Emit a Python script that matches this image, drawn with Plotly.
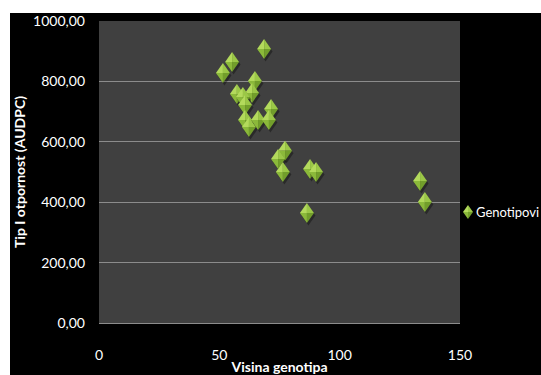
import plotly.graph_objects as go

# Plant height vs. type I resistance (AUDPC) per genotype
visina = [68.6, 55.3, 51.5, 64.8, 57.3, 63.6, 59.8, 60.7, 60.7, 62.3, 66.1,
          71.5, 70.6, 77.3, 74.4, 76.4, 87.7, 90.2, 86.4, 133.4, 135.4]
audpc = [907, 864, 828, 801, 758, 762, 748, 722, 672, 649, 672,
         709, 672, 570, 543, 500, 510, 500, 364, 470, 401]
serija = "Genotipovi"
y_ticks = [0, 200, 400, 600, 800, 1000]
x_ticks = [0, 50, 100, 150]

W, H = 541, 375
L, R, T, B = 99, 81, 21, 52
pw, ph = W - L - R, H - T - B

FONT = "Lato"


def px_x(p):
    return (p - L) / pw


def px_y(p):
    return (H - B - p) / ph


fig = go.Figure()
# the series trace (its glyphs are painted as faceted shapes below)
fig.add_trace(go.Scatter(
    x=visina, y=audpc, mode="markers", name=serija,
    marker=dict(symbol="diamond-tall", size=11, color="rgba(0,0,0,0)",
                line=dict(width=0)),
    cliponaxis=False,
))


def diamond(hw, hh, shadow=True):
    parts = []
    if shadow:
        parts.append((f"M{-hw + 1.5},-2.5 L1.5,{-2.5 - hh} L{hw + 1.5},-2.5 "
                      f"L1.5,{hh - 2.5} Z", "rgba(0,0,0,0.35)"))
    parts += [
        (f"M0,0 L-{hw},0 L0,{hh} Z", "#b3da5c"),
        (f"M0,0 L0,{hh} L{hw},0 Z", "#9bc747"),
        (f"M0,0 L{hw},0 L0,-{hh} Z", "#729e2b"),
        (f"M0,0 L0,-{hh} L-{hw},0 Z", "#8bb93a"),
    ]
    return parts


# faceted diamond glyph at each data point
for xv, yv in zip(visina, audpc):
    for p, col in diamond(7, 10):
        fig.add_shape(type="path", xref="x", yref="y",
                      xsizemode="pixel", ysizemode="pixel",
                      xanchor=xv, yanchor=yv, path=p,
                      fillcolor=col, line_width=0, layer="above")

# same glyph, smaller, as the legend key
for p, col in diamond(5, 7, shadow=False):
    fig.add_shape(type="path", xref="paper", yref="paper",
                  xsizemode="pixel", ysizemode="pixel",
                  xanchor=px_x(468), yanchor=px_y(212), path=p,
                  fillcolor=col, line_width=0, layer="above")

# light strips along the top and left edges of the canvas
fig.add_shape(type="rect", xref="paper", yref="paper", layer="above",
              x0=px_x(-5), x1=px_x(W + 5), y0=px_y(13), y1=px_y(-5),
              fillcolor="white", line_width=0)
fig.add_shape(type="rect", xref="paper", yref="paper", layer="above",
              x0=px_x(-5), x1=px_x(10), y0=px_y(H + 5), y1=px_y(-5),
              fillcolor="white", line_width=0)

fig.update_layout(
    width=W, height=H,
    margin=dict(l=L, r=R, t=T, b=B, pad=0, autoexpand=False),
    paper_bgcolor="black", plot_bgcolor="#404040",
    separators=",.",
    font=dict(family=FONT, color="white", size=14),
    showlegend=True,
    legend=dict(x=px_x(436), xanchor="left", y=px_y(212), yanchor="middle",
                bgcolor="rgba(0,0,0,0)", font=dict(size=13, color="white"),
                itemwidth=30, itemsizing="constant", borderwidth=0),
    xaxis=dict(range=[0, 150], tickvals=x_ticks, showgrid=False,
               zeroline=False, showline=True, linecolor="#8c8c8c",
               linewidth=1, ticks="", ticklabelstandoff=19,
               tickfont=dict(size=14), automargin=False,
               title=dict(text="<b>Visina genotipa</b>", standoff=12,
                          font=dict(size=14))),
    yaxis=dict(range=[0, 1000], tickvals=y_ticks, tickformat=".2f",
               showgrid=True, gridcolor="#8c8c8c", gridwidth=1,
               zeroline=False, showline=False, ticks="",
               ticklabelstandoff=13, tickfont=dict(size=14), automargin=False,
               title=dict(text="<b>Tip I otpornost (AUDPC)</b>", standoff=4,
                          font=dict(size=14))),
)

fig.write_html("out.html")
